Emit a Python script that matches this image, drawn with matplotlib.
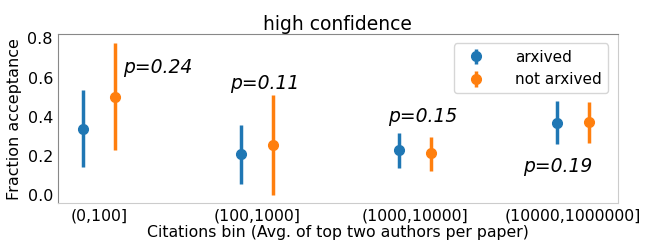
import numpy as np
import matplotlib
matplotlib.use('Agg')
import matplotlib.pyplot as plt

# citation bins and acceptance estimates (with CI bounds)
bins = ['(0,100]', '(100,1000]', '(1000,10000]', '(10000,1000000]']
arx_mean = [0.336, 0.21, 0.23, 0.368]
arx_low = [0.143, 0.06, 0.14, 0.26]
arx_high = [0.535, 0.36, 0.32, 0.48]
not_mean = [0.50, 0.255, 0.214, 0.372]
not_low = [0.23, 0.0, 0.125, 0.265]
not_high = [0.775, 0.51, 0.30, 0.474]
p_labels = ['p=0.24', 'p=0.11', 'p=0.15', 'p=0.19']
p_y = [0.65, 0.57, 0.40, 0.15]
p_x = [0.15, -0.17, -0.17, -0.32]

x = np.arange(len(bins))
arx_mean = np.array(arx_mean)
not_mean = np.array(not_mean)
arx_err = [arx_mean - np.array(arx_low), np.array(arx_high) - arx_mean]
not_err = [not_mean - np.array(not_low), np.array(not_high) - not_mean]

fig, ax = plt.subplots(figsize=(6.5, 2.45), dpi=100)
fig.subplots_adjust(left=0.089, right=0.95, top=0.86, bottom=0.17)

ax.errorbar(x - 0.1, arx_mean, yerr=arx_err, fmt='o', color='#1f77b4',
            elinewidth=2.5, markersize=7, label='arxived')
ax.errorbar(x + 0.1, not_mean, yerr=not_err, fmt='o', color='#ff7f0e',
            elinewidth=2.5, markersize=7, label='not arxived')

for i in range(len(bins)):
    ax.text(x[i] + p_x[i], p_y[i], p_labels[i], fontsize=13.5, style='italic',
            va='center', ha='left')

ax.set_xlim(-0.26, 3.28)
ax.set_ylim(-0.04, 0.82)
ax.set_xticks(x)
ax.set_xticklabels(bins, fontsize=11.3)
ax.set_yticks([0.0, 0.2, 0.4, 0.6, 0.8])
ax.tick_params(axis='y', labelsize=11.5)
ax.tick_params(length=0)
ax.set_xlabel('Citations bin (Avg. of top two authors per paper)', fontsize=11.3, labelpad=1)
ax.set_ylabel('Fraction acceptance', fontsize=11.5)
ax.set_title('high confidence', fontsize=13.5, pad=2)

ax.spines['top'].set_color('#888888')
ax.spines['left'].set_color('#888888')
ax.spines['right'].set_color('#cccccc')
ax.spines['bottom'].set_color('#cccccc')

ax.legend(loc='upper right', fontsize=11, handletextpad=1.6, borderaxespad=0.6)

plt.savefig('out.png', dpi=100)
